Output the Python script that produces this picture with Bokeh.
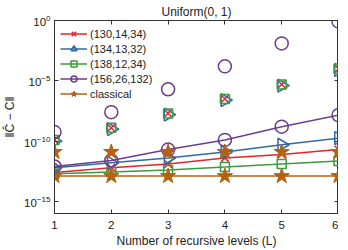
import numpy as np
from bokeh.plotting import figure
from bokeh.models import (FixedTicker, LogAxis, LinearAxis, Legend, LegendItem,
                          Range1d, Title, CustomJSTickFormatter)
from bokeh.embed import file_html
from bokeh.resources import INLINE

levels = [1, 2, 3, 4, 5, 6]

# connected (line) series, log10 values
line_130 = [-12.6, -12.2, -11.9, -11.4, -11.1, -10.7]
line_134 = [-12.2, -11.8, -11.4, -10.9, -10.3, -9.75]
line_138 = [-12.7, -12.55, -12.4, -12.15, -11.9, -11.65]
line_156 = [-12.1, -11.6, -10.7, -9.9, -8.8, -7.85]
line_classical = [-12.9, -12.9, -12.9, -12.9, -12.9, -12.9]

# unconnected marker series, log10 values
pts_130 = [-9.9, -8.9, -7.7, -6.5, -5.3, -4.0]
pts_134 = [-10.0, -9.0, -7.8, -6.6, -5.4, -4.1]
pts_138 = [-9.9, -8.9, -7.7, -6.5, -5.3, -4.0]
pts_156 = [-9.25, -7.6, -5.7, -3.8, -1.9, -0.08]
pts_classical = [-10.9, -10.9, -10.9, -10.9, -10.9, -10.9]

labels = ["(130,14,34)", "(134,13,32)", "(138,12,34)", "(156,26,132)", "classical"]
colors = ["#e3262b", "#2f6ba3", "#3e9a3f", "#6c3d8e", "#b5610f"]

FONT = "Liberation Sans"

p = figure(width=338, height=250, y_axis_type="log", output_backend="svg",
           toolbar_location=None, x_range=Range1d(1, 6), y_range=Range1d(1e-16, 1),
           min_border_left=54, min_border_right=0, min_border_top=0, min_border_bottom=0)
p.title = Title(text="Uniform(0, 1)", align="center", text_font=FONT,
                text_font_size="12px", text_font_style="normal", standoff=4, offset=0)
p.title.text_color = "#222222"
p.outline_line_color = "#333333"
p.grid.visible = False

def style_axis(ax):
    ax.major_tick_in = 4
    ax.major_tick_out = 0
    ax.minor_tick_in = 0
    ax.minor_tick_out = 0
    ax.axis_line_color = "#333333"
    ax.major_tick_line_color = "#333333"
    ax.major_label_text_font = FONT
    ax.major_label_text_font_size = "11.5px"
    ax.major_label_text_color = "#222222"
    ax.axis_label_text_font = FONT
    ax.axis_label_text_font_size = "12px"
    ax.axis_label_text_font_style = "normal"
    ax.axis_label_text_color = "#222222"

p.xaxis.ticker = FixedTicker(ticks=levels)
p.yaxis.ticker = FixedTicker(ticks=[1e-15, 1e-10, 1e-5, 1])
p.xaxis.axis_label = "Number of recursive levels (L)"
p.yaxis.axis_label = "\u2016\u0108 \u2212 C\u2016"
p.xaxis.axis_label_standoff = 2
p.yaxis.axis_label_standoff = 4
p.xaxis.major_label_standoff = 7
p.yaxis.major_label_standoff = 4
style_axis(p.xaxis[0])
style_axis(p.yaxis[0])

top = LinearAxis(ticker=FixedTicker(ticks=levels), formatter=CustomJSTickFormatter(code="return ''"))
right = LogAxis(ticker=FixedTicker(ticks=[1e-15, 1e-10, 1e-5, 1]),
                formatter=CustomJSTickFormatter(code="return ''"))
for ax in (top, right):
    style_axis(ax)
    ax.major_label_standoff = 0
p.add_layout(top, "above")
p.add_layout(right, "right")

def tv(v):
    return [10.0 ** a for a in v]

lines = [line_130, line_134, line_138, line_156, line_classical]
pts = [pts_130, pts_134, pts_138, pts_156, pts_classical]
items = []
for i, (lab, c) in enumerate(zip(labels, colors)):
    ly = tv(lines[i])
    sy = tv(pts[i])
    lr = p.line(levels, ly, line_color=c, line_width=1.5)
    if i == 0:
        kw = dict(marker="x", size=11, line_color=c, line_width=1.5)
    elif i == 1:
        kw = dict(marker="triangle", size=13, angle=-np.pi / 2, line_color=c,
                  fill_color=None, line_width=1.5)
    elif i == 2:
        kw = dict(marker="square", size=9, line_color=c, fill_color=None, line_width=1.5)
    elif i == 3:
        kw = dict(marker="circle", size=13, line_color=c, fill_color=None, line_width=1.5)
    else:
        kw = dict(marker="star", size=16, line_color=c, fill_color=c, line_width=1)
    mr = p.scatter(levels, ly, **kw)
    p.scatter(levels, sy, **kw)
    items.append(LegendItem(label=lab, renderers=[lr, mr]))

legend = Legend(items=items, location="top_left", border_line_color=None,
                background_fill_alpha=0, padding=0, margin=6, spacing=0,
                glyph_width=27, glyph_height=15, label_height=14,
                label_standoff=3, label_text_font=FONT, label_text_font_size="11px",
                label_text_color="#222222")
p.add_layout(legend)

open("out.html", "w").write(file_html(p, INLINE))
